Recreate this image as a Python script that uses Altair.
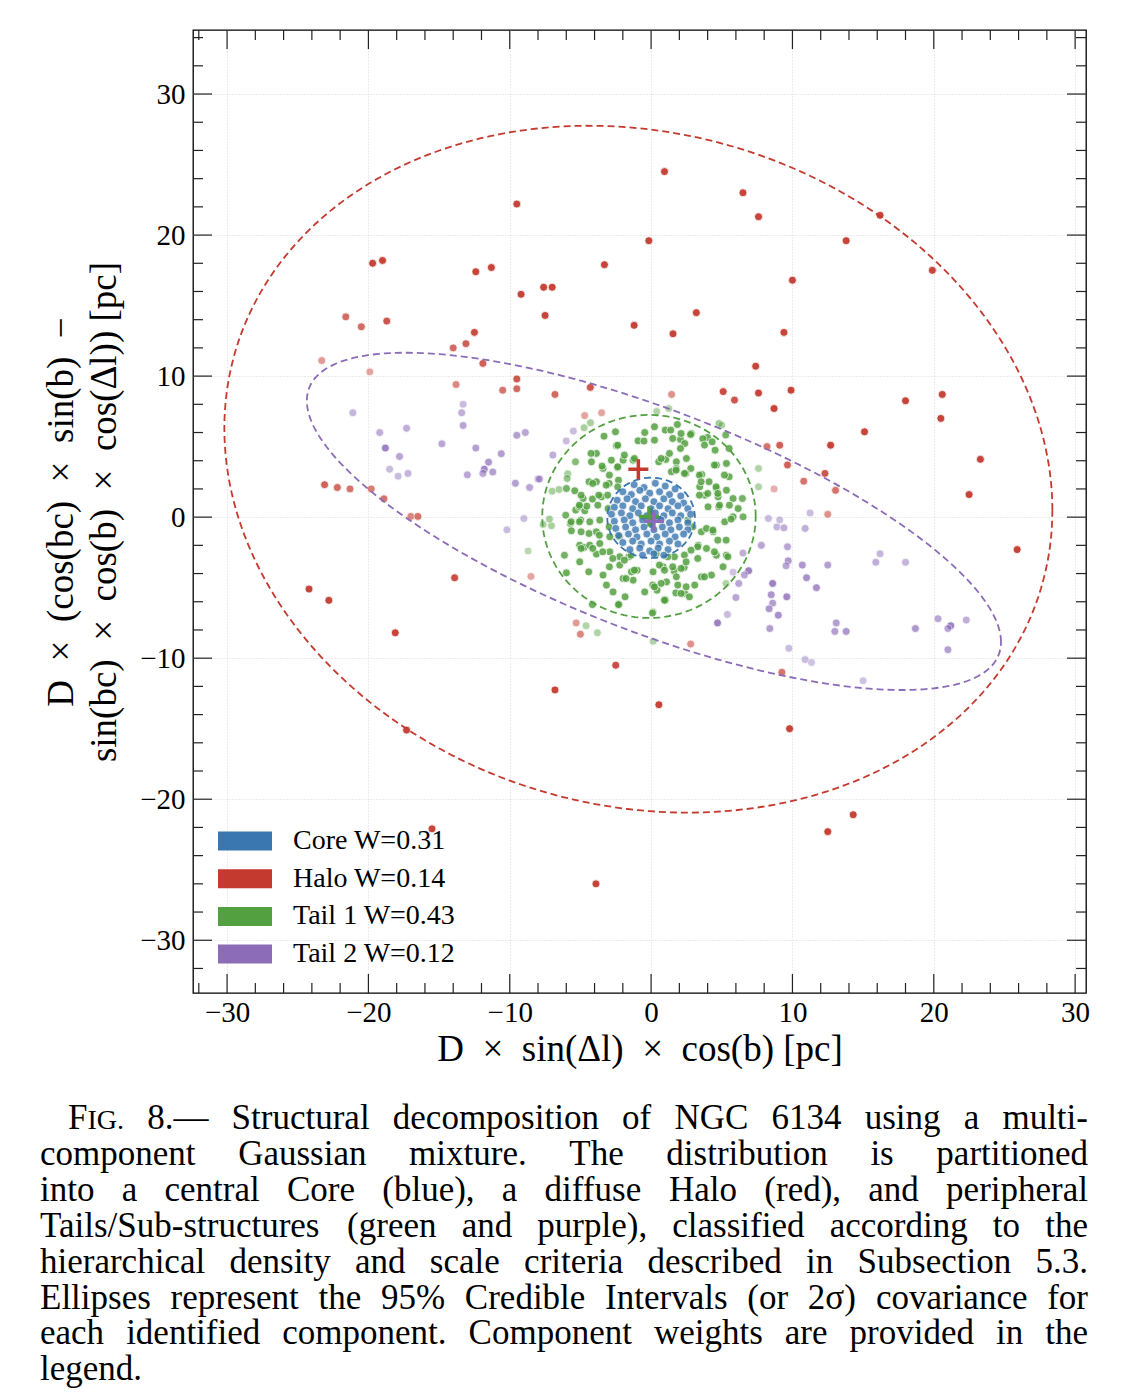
import altair as alt
import numpy as np
import pandas as pd

# ---------------- data ----------------
COMPONENTS = ["Core W=0.31", "Halo W=0.14", "Tail 1 W=0.43", "Tail 2 W=0.12"]
COLORS = ["#3a76af", "#c43a2f", "#53a040", "#8c6cb8"]

# (x [pc], y [pc], alpha)
HALO_PTS = [
    (-9.5, 22.2, .95), (-19.7, 18.0, .95), (-19.0, 18.2, .95), (-12.4, 17.4, .95), (-11.3, 17.7, .95),
    (-3.3, 17.9, .95), (-9.2, 15.8, .95), (-7.6, 16.3, .95), (-7.0, 16.3, .95), (-7.5, 14.3, .95),
    (-21.6, 14.2, .75), (-20.5, 13.5, .75), (-18.7, 13.9, .85), (-12.5, 13.1, .9), (-13.1, 12.3, .8),
    (-14.0, 12.0, .75), (-1.2, 13.6, .95), (-23.3, 11.1, .5), (-11.9, 10.9, .8), (-19.9, 10.3, .45),
    (0.95, 24.5, .95), (6.5, 23.0, .95), (7.6, 21.3, .95), (-0.16, 19.6, .95), (13.8, 19.6, .95),
    (16.2, 21.4, .95), (19.9, 17.5, .95), (10.0, 16.8, .95), (3.2, 14.5, .95), (1.55, 13.0, .95),
    (9.4, 13.1, .95), (7.4, 10.7, .95), (-13.8, 9.4, .6), (-9.5, 9.8, .85), (-10.5, 9.0, .7),
    (-9.5, 9.1, .75), (-23.1, 2.3, .8), (-22.2, 2.1, .75), (-21.3, 2.0, .7), (-19.8, 2.0, .65),
    (-18.9, 1.3, .7), (-17.0, 0.05, .6), (-16.5, 0.05, .7), (-8.5, -4.2, .45), (-13.9, -4.3, .9),
    (-24.2, -5.1, .95), (-22.8, -5.9, .95), (-18.1, -8.2, .95), (7.6, 8.8, .95), (9.9, 9.0, .95),
    (8.7, 7.7, .95), (18.0, 8.25, .95), (20.6, 8.7, .95), (20.5, 7.0, .95), (15.1, 6.05, .95),
    (12.7, 5.1, .95), (23.3, 4.1, .95), (22.5, 1.6, .95), (25.9, -2.3, .95), (8.2, 5.0, .7),
    (9.1, 5.1, .8), (9.65, 3.7, .8), (12.3, 3.1, .85), (10.8, 2.55, .7), (13.05, 1.9, .7),
    (8.7, 2.0, .4), (12.5, 0.2, .55), (9.25, -11.0, .7), (-6.8, -12.25, .95), (-17.3, -15.1, .95),
    (-15.5, -22.1, .95), (-3.9, -26.0, .95), (0.55, -13.3, .95), (-2.5, -10.5, .9), (9.8, -15.0, .95),
    (12.5, -22.3, .95), (14.3, -21.1, .95), (2.8, -9.0, .55), (-5.3, -7.5, .5), (-5.0, -8.3, .6),
    (-6.8, 8.7, .75), (-4.3, 9.2, .85), (1.45, 8.7, .55), (5.1, 8.9, .9), (5.9, 8.3, .85),
    (-4.7, 7.2, .45), (-3.5, 7.4, .45),
]

TAIL2_PTS = [
    (-21.1, 7.4, .5), (-13.3, 8.0, .45), (-13.4, 7.4, .55), (-13.3, 6.5, .6), (-19.2, 6.0, .55),
    (-17.3, 6.3, .55), (-14.8, 5.2, .6), (-18.8, 4.9, .85), (-17.8, 4.3, .6), (-18.5, 3.4, .45),
    (-17.9, 2.9, .45), (-17.2, 3.1, .5), (-12.4, 4.9, .65), (-11.5, 3.9, .7), (-11.8, 3.4, .8),
    (-11.9, 3.1, .6), (-11.2, 3.2, .65), (-13.0, 3.0, .6), (-10.6, 4.5, .65), (-9.5, 5.8, .65),
    (-8.9, 6.0, .6), (-9.6, 2.4, .65), (-8.6, 2.1, .6), (-8.0, 2.7, .55), (-9.0, -0.1, .45),
    (-10.2, -0.9, .45), (-5.5, 6.1, .45), (-6.0, 5.4, .45), (-6.95, 4.4, .55), (-7.9, 2.7, .6),
    (11.25, 0.3, .45), (8.3, -0.1, .45), (9.1, -0.2, .45), (8.9, -0.7, .5), (9.4, -0.76, .55),
    (10.9, -0.8, .55), (7.8, -2.0, .6), (9.65, -2.1, .6), (9.7, -3.1, .7), (9.55, -3.45, .6),
    (10.7, -3.4, .7), (12.5, -3.4, .65), (11.0, -4.3, .75), (11.7, -5.0, .75), (16.2, -2.6, .5),
    (15.9, -3.2, .55), (18.0, -3.2, .5), (8.6, -4.7, .85), (8.5, -5.5, .7), (8.6, -6.1, .65),
    (8.35, -6.5, .7), (9.0, -6.95, .75), (9.6, -5.65, .8), (8.4, -7.9, .65), (13.1, -7.5, .65),
    (13.0, -8.1, .65), (13.8, -8.1, .7), (18.7, -7.9, .7), (20.3, -7.2, .6), (21.2, -7.7, .85),
    (21.0, -7.9, .6), (22.3, -7.3, .55), (21.0, -9.4, .65), (9.75, -9.3, .45), (10.9, -10.1, .45),
    (11.35, -10.3, .4), (15.0, -11.6, .4), (4.7, -7.5, .85), (5.4, -6.9, .45), (6.5, -2.55, .55),
    (6.9, -3.8, .85), (6.6, -4.1, .6), (5.8, -3.9, .4), (6.2, -4.7, .6), (6.0, -5.7, .6),
]

TAIL1_PTS = [
    (1.86, 6.57, .85), (1.0, 6.17, .85), (2.85, 5.93, .85), (3.99, 5.65, .85), (4.81, 6.64, .55),
    (3.66, 5.56, .85), (4.32, 5.34, .85), (4.53, 4.75, .85), (5.52, 4.87, .85), (5.28, 5.82, .8),
    (-0.45, 6.0, .85), (-0.92, 5.41, .85), (-0.5, 5.39, .85), (1.39, 6.17, .85), (2.08, 5.51, .85),
    (2.38, 5.22, .85), (-2.45, 5.06, .85), (-2.52, 6.05, .85), (-3.33, 5.74, .85), (-4.29, 6.69, .5),
    (-4.74, 6.34, .5), (-5.35, 3.92, .7), (-5.9, 3.07, .5), (-3.87, 4.52, .85), (-4.22, 3.92, .85),
    (-3.4, 3.45, .85), (-2.81, 4.04, .85), (-2.38, 3.52, .85), (-1.98, 4.04, .85), (-1.27, 4.04, .85),
    (0.54, 3.92, .85), (1.04, 4.09, .85), (1.79, 3.92, .85), (2.5, 4.16, .85), (2.81, 3.45, .85),
    (3.58, 3.03, .85), (4.62, 3.69, .85), (5.33, 3.81, .85), (4.1, 2.51, .85), (4.62, 2.03, .85),
    (5.33, 1.91, .85), (5.52, 2.86, .85), (1.79, 3.45, .85), (2.45, 3.1, .85), (1.44, 3.22, .85),
    (-7.0, 1.84, .5), (-6.51, 1.96, .5), (-5.99, 2.03, .8), (-5.4, 1.87, .85), (-4.39, 2.51, .85),
    (-3.87, 2.51, .85), (-2.97, 2.39, .85), (-2.31, 2.62, .85), (-4.81, 1.32, .85), (-4.15, 1.28, .85),
    (-3.51, 1.44, .85), (-3.04, 0.61, .85), (-6.04, 0.14, .8), (-5.33, 0.5, .85), (-5.09, 0.73, .85),
    (-4.69, 0.45, .85), (-5.71, -0.45, .85), (-4.98, -0.21, .85), (-4.34, -0.33, .85), (-3.63, -0.21, .85),
    (-2.97, -0.69, .85), (-7.05, -0.61, .5), (-7.64, -0.52, .5), (-5.64, -0.97, .85), (-5.05, -1.99, .85),
    (-4.74, -2.15, .85), (-4.34, -1.99, .85), (-3.63, -1.87, .85), (-2.92, -1.39, .85), (-4.39, -1.16, .85),
    (-3.87, -1.04, .85), (-5.99, -3.95, .85), (-5.05, -3.17, .85), (-4.41, -3.88, .85), (-3.87, -2.62, .85),
    (-2.92, -2.46, .85), (-2.22, -2.81, .85), (-2.22, -3.4, .85), (-1.58, -2.81, .85), (-1.39, -3.88, .85),
    (-0.99, -3.76, .85), (-3.4, -4.11, .85), (-3.16, -4.82, .85), (-1.98, -4.35, .85), (-1.27, -4.47, .85),
    (-2.69, -5.3, .85), (-1.84, -5.65, .85), (-2.29, -6.19, .85), (-0.45, -5.3, .85), (0.42, -5.18, .85),
    (0.14, -3.88, .85), (0.85, -3.52, .85), (1.63, -3.81, .85), (2.34, -3.57, .85), (1.09, -4.59, .85),
    (1.79, -4.23, .85), (0.97, -5.84, .85), (1.75, -5.37, .85), (2.38, -5.41, .85), (3.09, -4.82, .85),
    (3.56, -4.23, .85), (4.27, -4.11, .85), (5.09, -3.52, .85), (4.62, -2.7, .85), (5.33, -2.7, .85),
    (3.92, -2.22, .85), (3.33, -1.99, .85), (3.56, -1.04, .85), (3.92, -0.8, .85), (4.39, -1.04, .85),
    (5.21, -0.33, .85), (5.8, 0.02, .85), (6.51, 0.02, .8), (6.16, 0.61, .85), (5.8, 1.32, .85),
    (6.46, 1.32, .8), (4.79, 0.73, .85), (4.03, 0.73, .85), (3.8, 1.56, .85), (3.44, 2.15, .85),
    (4.74, 1.44, .85), (0.14, -6.71, .55), (0.4, 7.5, .45), (1.25, 7.7, .45), (-8.7, -2.4, .4),
    (7.6, 3.45, .45), (7.6, 2.15, .45), (-4.6, -7.7, .45), (-3.8, -8.2, .45), (0.15, -8.8, .45),
    (5.3, -4.7, .45), (5.0, 6.52, .45), (-4.15, -6.2, .85), (-2.3, -6.2, .85), (0.1, -6.8, .85),
    (1.0, -5.9, .85), (-1.89, 4.4, .85), (-1.18, 4.16, .85), (-2.36, 5.1, .85), (-2.36, 3.57, .85),
    (-2.95, 2.98, .85), (-3.18, 2.27, .85), (-3.7, 1.56, .85), (-3.07, 1.56, .85), (-3.77, 0.85, .85),
    (-4.55, 0.78, .85), (-5.07, 0.85, .85), (-4.95, 1.56, .85), (-5.94, 2.74, .6), (-4.25, 4.52, .85),
    (-3.47, 3.62, .85), (-4.13, 2.39, .85), (-2.36, 2.15, .85), (0.24, 6.41, .85), (0.24, 5.46, .85),
    (1.53, 5.58, .85), (2.12, 5.93, .85), (2.79, 5.86, .85), (3.78, 5.11, .85), (2.08, 4.87, .85),
    (1.3, 4.52, .85), (0.71, 4.16, .85), (1.77, 3.33, .85), (2.36, 3.1, .85), (3.42, 2.98, .85),
    (3.54, 2.51, .85), (4.48, 3.69, .85), (5.19, 2.98, .85), (4.6, 2.15, .85), (4.01, 1.68, .85),
    (3.42, 1.56, .85), (4.72, 1.68, .85), (4.84, 0.85, .85), (5.54, 0.85, .85), (-7.19, -0.14, .5),
    (-5.66, -0.33, .85), (-5.07, -0.33, .85), (-4.95, -1.04, .85), (-3.66, -1.28, .85), (-2.24, -1.39, .85),
    (-4.95, -2.22, .85), (-4.13, -2.22, .85), (-3.42, -2.46, .85), (-6.13, -2.7, .8), (-2.95, -3.52, .85),
    (-2.71, -2.93, .85), (-1.89, -3.05, .85), (-1.42, -2.7, .85), (-1.77, -4.35, .85), (-1.18, -3.76, .85),
    (0.12, -4.82, .85), (2.6, -0.21, .85), (2.95, -0.69, .85), (4.37, -0.92, .85), (4.72, -1.63, .85),
    (5.31, -1.63, .85), (3.3, -2.1, .85), (2.83, -2.34, .85), (2.36, -2.69, .85), (3.3, -2.93, .85),
    (4.48, -2.46, .85), (5.43, -2.81, .85), (1.65, -2.81, .85), (1.18, -2.81, .85), (0.36, -2.58, .85),
    (0.59, -3.4, .85), (0.95, -3.76, .85), (1.53, -3.52, .85), (2.12, -3.64, .85), (2.48, -3.17, .85),
    (3.78, -4.23, .85), (0.71, -4.7, .85), (0.24, -4.94, .85), (1.89, -4.82, .85), (2.48, -4.94, .85),
    (2.12, -5.41, .85), (2.71, -5.65, .85), (0.95, -5.89, .85), (5.66, -0.14, .85),
]

CORE_PTS = [
    (-1.2, 2.3, .8), (-0.5, 2.1, .8), (0.3, 2.4, .8), (1.0, 2.2, .8), (1.7, 2.0, .8),
    (-2.0, 1.8, .8), (-1.4, 1.6, .8), (-0.8, 1.9, .8), (-0.1, 1.7, .8), (0.6, 1.8, .8), (1.3, 1.6, .8), (2.1, 1.5, .8),
    (-2.4, 1.2, .8), (-1.7, 1.3, .8), (-1.1, 1.1, .8), (-0.4, 1.3, .8), (0.2, 1.1, .8), (0.9, 1.3, .8), (1.5, 1.1, .8), (2.3, 1.0, .8),
    (-2.6, 0.7, .8), (-2.0, 0.8, .8), (-1.3, 0.6, .8), (-0.7, 0.8, .8), (0.0, 0.6, .8), (0.6, 0.8, .8), (1.2, 0.6, .8), (1.9, 0.8, .8), (2.6, 0.6, .8),
    (-2.8, 0.2, .8), (-2.1, 0.3, .8), (-1.5, 0.1, .8), (-0.9, 0.3, .8), (-0.3, 0.1, .8), (0.3, 0.3, .8), (0.9, 0.1, .8), (1.5, 0.3, .8), (2.1, 0.1, .8), (2.8, 0.2, .8),
    (-2.6, -0.3, .8), (-1.9, -0.2, .8), (-1.3, -0.4, .8), (-0.6, -0.2, .8), (0.0, -0.4, .8), (0.7, -0.2, .8), (1.3, -0.4, .8), (1.9, -0.2, .8), (2.6, -0.4, .8),
    (-2.5, -0.8, .8), (-1.8, -0.7, .8), (-1.1, -0.9, .8), (-0.5, -0.7, .8), (0.2, -0.9, .8), (0.8, -0.7, .8), (1.4, -0.9, .8), (2.0, -0.7, .8), (2.6, -0.9, .8),
    (-2.3, -1.3, .8), (-1.6, -1.2, .8), (-1.0, -1.4, .8), (-0.3, -1.2, .8), (0.4, -1.4, .8), (1.0, -1.2, .8), (1.7, -1.4, .8), (2.3, -1.2, .8),
    (-2.0, -1.8, .8), (-1.3, -1.7, .8), (-0.7, -1.9, .8), (0.0, -1.7, .8), (0.6, -1.9, .8), (1.3, -1.7, .8), (1.9, -1.9, .8),
    (-1.5, -2.3, .8), (-0.8, -2.2, .8), (-0.1, -2.4, .8), (0.5, -2.2, .8), (1.2, -2.3, .8),
    (-0.6, -2.7, .8), (0.2, -2.6, .8), (0.9, -2.7, .8),
]

# 2-sigma ellipse of each component: centre and (scaled) covariance, order as COMPONENTS
ELL_CX = [0.0, -0.9, -0.15, 0.2]
ELL_CY = [-0.05, 3.4, 0.05, -0.3]
ELL_SXX = [9.6, 858.0, 57.0, 603.0]
ELL_SYY = [8.1, 593.0, 51.8, 143.0]
ELL_SXY = [0.0, -85.0, 0.0, -210.0]

EN = "\u2002"
X_TITLE = f"D{EN}×{EN}sin(Δl){EN}×{EN}cos(b) [pc]"
Y_TITLE = [f"D{EN}×{EN}(cos(bc){EN}×{EN}sin(b){EN}−",
           f"sin(bc){EN}×{EN}cos(b){EN}×{EN}cos(Δl)) [pc]"]
X_MAJOR = [-30, -20, -10, 0, 10, 20, 30]
Y_MAJOR = [-30, -20, -10, 0, 10, 20, 30]

CAPTION = [
    "FIG. 8.— Structural decomposition of NGC 6134 using a multi-",
    "component Gaussian mixture. The distribution is partitioned",
    "into a central Core (blue), a diffuse Halo (red), and peripheral",
    "Tails/Sub-structures (green and purple), classified according to the",
    "hierarchical density and scale criteria described in Subsection 5.3.",
    "Ellipses represent the 95% Credible Intervals (or 2σ) covariance for",
    "each identified component. Component weights are provided in the",
    "legend.",
]

# ---------------- layout ----------------
SERIF = "Liberation Serif"
W, H = 893, 963
PAD_L, PAD_T = 193, 30
XDOM = [-32.41, 30.77]
YDOM = [-33.74, 34.54]
xs = alt.Scale(domain=XDOM, nice=False, zero=False)
ys = alt.Scale(domain=YDOM, nice=False, zero=False)
cscale = alt.Scale(domain=COMPONENTS, range=COLORS)

X_AXIS = alt.Axis(
    values=X_MAJOR, title=X_TITLE, ticks=False, domain=False,
    grid=True, gridColor="#cfcfcf", gridDash=[1, 2], gridWidth=0.8,
    labelFont=SERIF, labelFontSize=29, labelColor="black", labelPadding=5,
    labelOverlap=False, labelFlush=False,
    titleFont=SERIF, titleFontSize=37, titleFontWeight="normal", titleColor="black",
    titlePadding=4)
Y_AXIS = alt.Axis(
    values=Y_MAJOR, title=Y_TITLE, ticks=False, domain=False,
    grid=True, gridColor="#cfcfcf", gridDash=[1, 2], gridWidth=0.8,
    labelFont=SERIF, labelFontSize=29, labelColor="black", labelPadding=8,
    labelOverlap=False, labelFlush=False,
    titleFont=SERIF, titleFontSize=37, titleFontWeight="normal", titleColor="black",
    titlePadding=16, titleLineHeight=43)

rows = []
for comp, pts in [(COMPONENTS[1], HALO_PTS), (COMPONENTS[3], TAIL2_PTS),
                  (COMPONENTS[2], TAIL1_PTS), (COMPONENTS[0], CORE_PTS)]:
    for (x, y, a) in pts:
        rows.append({"x": x, "y": y, "a": a, "comp": comp})
pts_df = pd.DataFrame(rows)

points = alt.Chart(pts_df).mark_circle(size=64, stroke="white", strokeWidth=0.8).encode(
    x=alt.X("x:Q", scale=xs, axis=X_AXIS),
    y=alt.Y("y:Q", scale=ys, axis=Y_AXIS),
    color=alt.Color("comp:N", scale=cscale, legend=None),
    opacity=alt.Opacity("a:Q", scale=None),
)

# ellipses
erows = []
t = np.linspace(0, 2 * np.pi, 241)
for i, comp in enumerate(COMPONENTS):
    S = np.array([[ELL_SXX[i], ELL_SXY[i]], [ELL_SXY[i], ELL_SYY[i]]])
    L = np.linalg.cholesky(S)
    xy = L @ np.vstack([np.cos(t), np.sin(t)])
    for k in range(len(t)):
        erows.append({"comp": comp, "k": k, "x": ELL_CX[i] + xy[0, k], "y": ELL_CY[i] + xy[1, k]})
ell_df = pd.DataFrame(erows)
ellipses = alt.Chart(ell_df).mark_line(strokeDash=[7, 4], strokeWidth=1.8).encode(
    x=alt.X("x:Q", scale=xs, axis=X_AXIS),
    y=alt.Y("y:Q", scale=ys, axis=Y_AXIS),
    color=alt.Color("comp:N", scale=cscale, legend=None),
    order=alt.Order("k:Q"),
)

cen_df = pd.DataFrame({"comp": COMPONENTS, "x": ELL_CX, "y": ELL_CY})
centers = alt.Chart(cen_df).mark_point(shape="M-1,0H1M0,-1V1", filled=False, size=400,
                                       strokeWidth=3.5, opacity=1).encode(
    x=alt.X("x:Q", scale=xs, axis=X_AXIS),
    y=alt.Y("y:Q", scale=ys, axis=Y_AXIS),
    color=alt.Color("comp:N", scale=cscale, legend=None),
)

# inward ticks on all four sides
xt = []
for v in range(-32, 31, 2):
    ln = 19 if v % 10 == 0 else 10
    xt.append({"v": v, "p0": H, "p1": H - ln})
    xt.append({"v": v, "p0": 0, "p1": ln})
yt = []
for v in range(-32, 35, 2):
    ln = 19 if v % 10 == 0 else 10
    yt.append({"v": v, "p0": 0, "p1": ln})
    yt.append({"v": v, "p0": W, "p1": W - ln})
xticks = alt.Chart(pd.DataFrame(xt)).mark_rule(color="#222222", strokeWidth=1.2).encode(
    x=alt.X("v:Q", scale=xs, axis=X_AXIS),
    y=alt.Y("p0:Q", scale=None), y2="p1:Q")
yticks = alt.Chart(pd.DataFrame(yt)).mark_rule(color="#222222", strokeWidth=1.2).encode(
    y=alt.Y("v:Q", scale=ys, axis=Y_AXIS),
    x=alt.X("p0:Q", scale=None), x2="p1:Q")

# legend (lower left, inside the frame)
leg_y = [811 + 37.7 * i for i in range(4)]
leg_df = pd.DataFrame({"label": COMPONENTS, "yc": leg_y,
                       "y0": [v - 9.5 for v in leg_y], "y1": [v + 9.5 for v in leg_y]})
leg_rect = alt.Chart(leg_df).mark_rect().encode(
    x=alt.value(25), x2=alt.value(79),
    y=alt.Y("y0:Q", scale=None), y2="y1:Q",
    color=alt.Color("label:N", scale=cscale, legend=None))
leg_text = alt.Chart(leg_df).mark_text(align="left", baseline="middle", font=SERIF,
                                       fontSize=28, color="black").encode(
    x=alt.value(100), y=alt.Y("yc:Q", scale=None), text="label:N")

# caption, justified using Times metrics (Liberation Serif is metric compatible)
TIMES = {
    'a': .444, 'b': .5, 'c': .444, 'd': .5, 'e': .444, 'f': .333, 'g': .5, 'h': .5, 'i': .278,
    'j': .278, 'k': .5, 'l': .278, 'm': .778, 'n': .5, 'o': .5, 'p': .5, 'q': .5, 'r': .333,
    's': .389, 't': .278, 'u': .5, 'v': .5, 'w': .722, 'x': .5, 'y': .5, 'z': .444,
    'A': .722, 'B': .667, 'C': .667, 'D': .722, 'E': .611, 'F': .556, 'G': .722, 'H': .722,
    'I': .333, 'N': .722, 'S': .556, 'T': .611, ' ': .25, '.': .25, ',': .25, '(': .333,
    ')': .333, '/': .278, '-': .333, '—': 1.0, '%': .833, 'σ': .55,
}
FS = 35


def tw(s, fs):
    return sum(TIMES.get(ch, 0.5) for ch in s) * fs


crow = []
for i, line in enumerate(CAPTION):
    x0 = 68 if i == 0 else 40
    x1 = 1088
    words = line.split()
    pieces = []
    for w in words:
        if w == "FIG.":
            pieces.append([("F", FS), ("IG.", FS * 0.8)])
        else:
            pieces.append([(w, FS)])
    widths = [sum(tw(s, f) for s, f in p) for p in pieces]
    if i == len(CAPTION) - 1:
        gap = 0.25 * FS
    else:
        gap = (x1 - x0 - sum(widths)) / (len(pieces) - 1)
    base = 1129 + 35.9 * i
    cx = x0
    for p, wd in zip(pieces, widths):
        px = cx
        for s, f in p:
            crow.append({"t": s, "px": px - PAD_L, "py": base - PAD_T, "fs": f})
            px += tw(s, f)
        cx += wd + gap
cap_df = pd.DataFrame(crow)
caption = alt.Chart(cap_df).mark_text(align="left", baseline="alphabetic", font=SERIF,
                                      color="black").encode(
    x=alt.X("px:Q", scale=None), y=alt.Y("py:Q", scale=None),
    text="t:N", size=alt.Size("fs:Q", scale=None))

chart = alt.layer(points, ellipses, centers, xticks, yticks, leg_rect, leg_text, caption).properties(
    width=W, height=H,
    autosize=alt.AutoSizeParams(type="none"),
    padding={"left": PAD_L, "top": PAD_T, "right": 1125 - PAD_L - W, "bottom": 1392 - PAD_T - H},
    background="white",
).configure_view(stroke="black", strokeWidth=1.3)

chart.save("out.html", embed_options={"renderer": "svg", "actions": False})
